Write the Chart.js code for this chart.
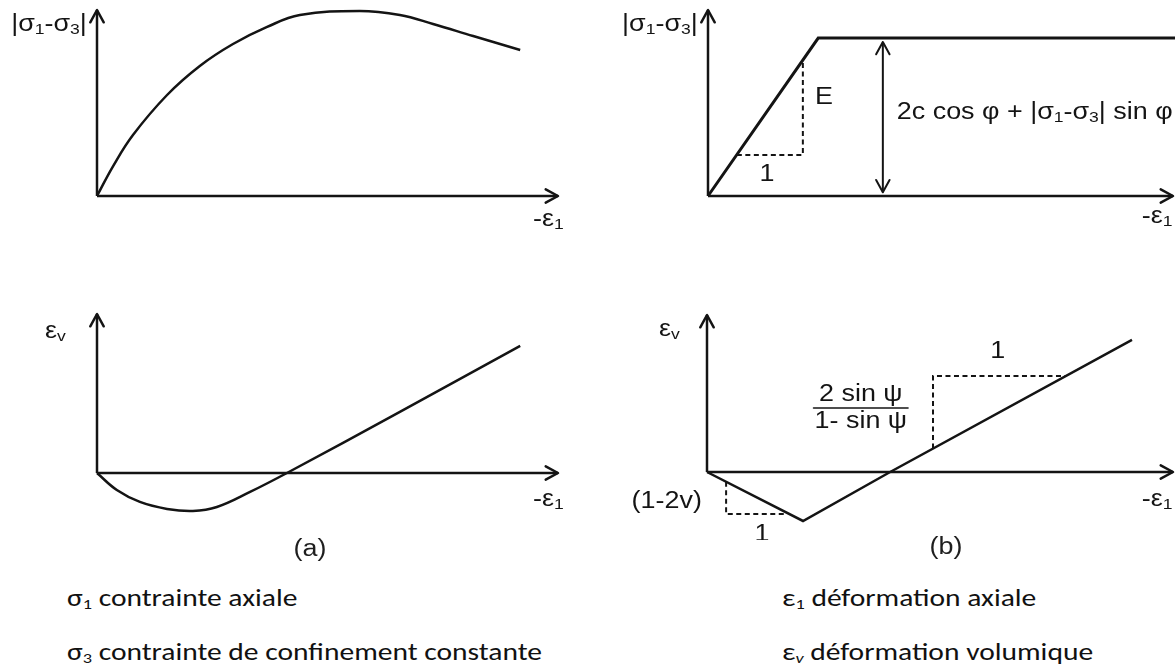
<!DOCTYPE html>
<html>
<head>
<meta charset="utf-8">
<script src="https://cdn.jsdelivr.net/npm/chart.js@4.4.0/dist/chart.umd.min.js"></script>
<style>
  body { margin: 0; background: #fff; width: 1175px; height: 670px; position: relative; overflow: hidden;
         font-family: "Liberation Sans", Arial, sans-serif; color: #1e1e1e; }
  canvas { position: absolute; }
  .cap { position: absolute; font-size: 23px; transform: translate(-50%, -50%) scaleX(1.17); white-space: nowrap; }
  .note { position: absolute; font-family: Carlito, Calibri, Lato, sans-serif; font-size: 24px; color: #111;
          transform-origin: 0 50%; transform: translateY(-50%) scaleX(1.23); white-space: nowrap; }
  .note sub { font-size: 0.62em; vertical-align: -0.25em; line-height: 0; }
</style>
</head>
<body>
<canvas id="aTop"></canvas>
<canvas id="aBot"></canvas>
<canvas id="bTop"></canvas>
<canvas id="bBot"></canvas>

<div class="cap" style="left:310px;top:548px">(a)</div>
<div class="cap" style="left:946px;top:546px">(b)</div>
<div class="note" style="left:67px;top:597px">σ<sub>1</sub> contrainte axiale</div>
<div class="note" style="left:67px;top:651px">σ<sub>3</sub> contrainte de confinement constante</div>
<div class="note" style="left:782px;top:597px">ε<sub>1</sub> déformation axiale</div>
<div class="note" style="left:782px;top:651px">ε<sub><i>v</i></sub> déformation volumique</div>

<script>
// axis length in data units (both axes, every panel)
const axisLen = 10;

// (a) measured behaviour: deviatoric stress and volumetric strain vs -eps1
const aStressEps = [0, 0.35, 0.78, 1.52, 2.23, 2.95, 3.69, 4.4, 5.7, 6.57, 7.29, 8.16, 9.18];
const aStressQ   = [0, 1.61, 3.28, 5.43, 6.99, 8.17, 9.09, 9.73, 9.95, 9.73, 9.25, 8.6, 7.85];
const aVolEps    = [0, 0.43, 0.93, 1.52, 2.08, 2.6, 3.32, 4.12, 6.57, 9.18];
const aVolEv     = [0, -1.07, -1.82, -2.26, -2.39, -2.14, -1.19, 0, 3.84, 8.0];

// (b) elastic - perfectly plastic Mohr-Coulomb model
const bStressEps = [0, 2.37, 10.4];
const bStressQ   = [0, 8.49, 8.49];
const bVolEps    = [0, 2.06, 3.93, 9.12];
const bVolEv     = [0, -3.12, 0, 8.41];

// dashed slope triangles
const slopeE_eps   = [0.62, 2.04, 2.04];
const slopeE_q     = [2.2, 2.2, 7.31];
const slopeNu_eps  = [0.41, 0.41, 1.68];
const slopeNu_ev   = [-0.62, -2.68, -2.68];
const slopePsi_eps = [4.85, 4.85, 7.7];
const slopePsi_ev  = [1.49, 6.11, 6.11];

// double arrow giving the plastic plateau height
const plateauEps = [3.76, 3.76];
const plateauQ   = [0.2, 8.28];

// canvas box + origin (px) + px per data unit, for each panel
const BOX = {
  aTop: { left: 0,   top: 0,   w: 587, h: 250, ox: 97,  oy: 196, ux: 46.1, uy: 18.6 },
  aBot: { left: 0,   top: 290, w: 587, h: 250, ox: 97,  oy: 183, ux: 46.1, uy: 15.9 },
  bTop: { left: 587, top: 0,   w: 588, h: 250, ox: 121, oy: 196, ux: 46.5, uy: 18.6 },
  bBot: { left: 587, top: 290, w: 588, h: 250, ox: 120, oy: 182, ux: 46.6, uy: 15.7 },
};

const INK = '#141414';
const FONT = '"Liberation Sans", Arial, sans-serif';
const TXT = 23;
const STRETCH = 1.17;   // labels are set a little wide

function line(xs, ys, extra) {
  return Object.assign({
    data: xs.map((x, i) => ({ x, y: ys[i] })),
    showLine: true, borderColor: INK, borderWidth: 2.5,
    pointRadius: 0, fill: false, tension: 0,
  }, extra || {});
}
function dashed(xs, ys) { return line(xs, ys, { borderWidth: 2, borderDash: [5, 3.5] }); }
const xAxis = () => line([0, axisLen], [0, 0]);
const yAxis = () => line([0, 0], [0, axisLen]);

// open "V" arrow head at point `to`, coming from `from`
function arrowHead(ctx, from, to) {
  const a = Math.atan2(to.y - from.y, to.x - from.x), len = 14, sp = 0.5;
  ctx.beginPath();
  ctx.moveTo(to.x - len * Math.cos(a - sp), to.y - len * Math.sin(a - sp));
  ctx.lineTo(to.x, to.y);
  ctx.lineTo(to.x - len * Math.cos(a + sp), to.y - len * Math.sin(a + sp));
  ctx.stroke();
}

// text made of parts; a nested array is a subscript. Returns drawn width.
function drawRich(ctx, parts, x, y, size, align) {
  const sub = Math.round(size * 0.66);
  const pieces = parts.map(p => Array.isArray(p) ? { t: p[0], s: sub, dy: size * 0.22 } : { t: p, s: size, dy: 0 });
  let w = 0;
  pieces.forEach(p => { ctx.font = p.s + 'px ' + FONT; p.w = ctx.measureText(p.t).width; w += p.w; });
  const W = w * STRETCH;
  const x0 = align === 'right' ? x - W : align === 'center' ? x - W / 2 : x;
  ctx.save();
  ctx.translate(x0, y);
  ctx.scale(STRETCH, 1);
  let cx = 0;
  pieces.forEach(p => { ctx.font = p.s + 'px ' + FONT; ctx.fillText(p.t, cx, p.dy); cx += p.w; });
  ctx.restore();
  return W;
}

function makePanel(id, datasets, arrows, labels) {
  const b = BOX[id];
  const cv = document.getElementById(id);
  cv.width = b.w; cv.height = b.h;
  cv.style.left = b.left + 'px'; cv.style.top = b.top + 'px';

  const overlay = {
    id: 'overlay',
    afterDatasetsDraw(chart) {
      const ctx = chart.ctx, sx = chart.scales.x, sy = chart.scales.y;
      ctx.save();
      ctx.strokeStyle = INK; ctx.fillStyle = INK; ctx.lineCap = 'round'; ctx.lineJoin = 'round';
      arrows.forEach(([di, which, lw]) => {
        const pts = chart.getDatasetMeta(di).data;
        ctx.lineWidth = lw || 2.5;
        const n = pts.length;
        if (which !== 'start') arrowHead(ctx, pts[n - 2], pts[n - 1]);
        if (which !== 'end') arrowHead(ctx, pts[1], pts[0]);
      });
      ctx.textBaseline = 'middle';
      ctx.textAlign = 'left';
      labels.forEach(l => {
        const px = sx.getPixelForValue(l.x), py = sy.getPixelForValue(l.y);
        if (l.frac) {
          const w1 = drawRich(ctx, l.frac[0], px, py - 13, TXT, 'center');
          const w2 = drawRich(ctx, l.frac[1], px, py + 14, TXT, 'center');
          const w = Math.max(w1, w2) + 2;
          ctx.lineWidth = 1.6;
          ctx.beginPath(); ctx.moveTo(px - w / 2, py); ctx.lineTo(px + w / 2, py); ctx.stroke();
        } else {
          drawRich(ctx, l.parts, px, py, TXT, l.align || 'left');
        }
      });
      ctx.restore();
    }
  };

  return new Chart(cv, {
    type: 'scatter',
    data: { datasets },
    options: {
      responsive: false, animation: false, events: [],
      layout: { padding: 0 },
      plugins: { legend: { display: false }, tooltip: { enabled: false } },
      scales: {
        x: { type: 'linear', display: false, min: -b.ox / b.ux, max: (b.w - b.ox) / b.ux },
        y: { type: 'linear', display: false, min: -(b.h - b.oy) / b.uy, max: b.oy / b.uy },
      },
    },
    plugins: [overlay],
  });
}

const Q = ['|σ', ['1'], '-σ', ['3'], '|'];
const EPS1 = ['-ε', ['1']];
const EPSV = ['ε', ['v']];

makePanel('aTop',
  [xAxis(), yAxis(), line(aStressEps, aStressQ, { tension: 0.4 })],
  [[0, 'end'], [1, 'end']],
  [
    { x: -0.22, y: 9.19, parts: Q, align: 'right' },
    { x: 9.46, y: -1.29, parts: EPS1 },
  ]);

makePanel('aBot',
  [xAxis(), yAxis(), line(aVolEps, aVolEv, { tension: 0.4 })],
  [[0, 'end'], [1, 'end']],
  [
    { x: -1.13, y: 8.87, parts: EPSV },
    { x: 9.46, y: -1.70, parts: EPS1 },
  ]);

makePanel('bTop',
  [xAxis(), yAxis(), line(bStressEps, bStressQ, { borderWidth: 3 }),
   dashed(slopeE_eps, slopeE_q), line(plateauEps, plateauQ, { borderWidth: 2 })],
  [[0, 'end'], [1, 'end'], [4, 'both', 2]],
  [
    { x: -0.22, y: 9.19, parts: Q, align: 'right' },
    { x: 2.30, y: 5.27, parts: ['E'] },
    { x: 1.27, y: 1.13, parts: ['1'], align: 'center' },
    { x: 4.06, y: 4.46, parts: ['2c cos φ + ', ...Q, ' sin φ'] },
    { x: 9.33, y: -1.13, parts: EPS1 },
  ]);

makePanel('bBot',
  [xAxis(), yAxis(), line(bVolEps, bVolEv),
   dashed(slopeNu_eps, slopeNu_ev), dashed(slopePsi_eps, slopePsi_ev)],
  [[0, 'end'], [1, 'end']],
  [
    { x: -1.03, y: 9.04, parts: EPSV },
    { x: 9.33, y: -1.78, parts: EPS1 },
    { x: -0.11, y: -1.91, parts: ['(1-2v)'], align: 'right' },
    { x: 1.18, y: -4.01, parts: ['1'], align: 'center' },
    { x: 6.24, y: 7.64, parts: ['1'], align: 'center' },
    { x: 3.30, y: 4.08, frac: [['2 sin ψ'], ['1- sin ψ']] },
  ]);
</script>
</body>
</html>
